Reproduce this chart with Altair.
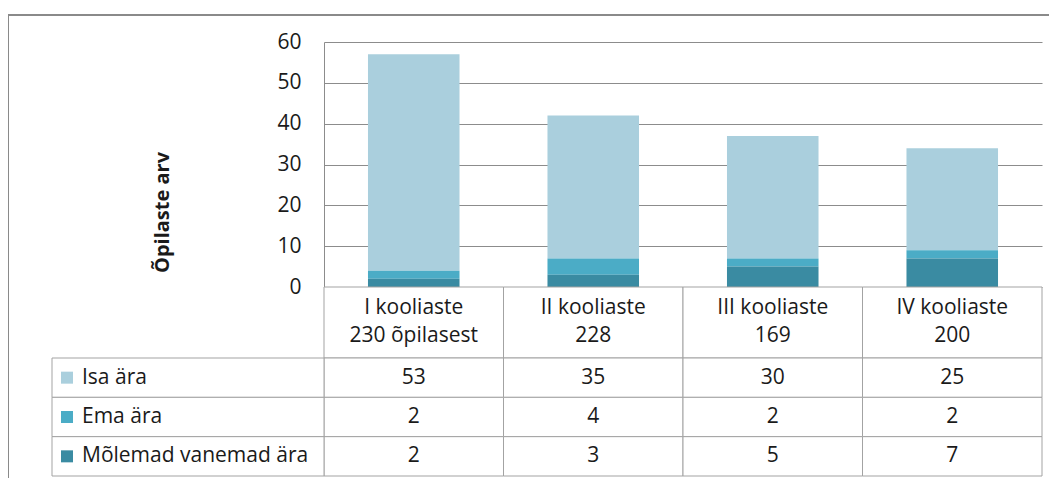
import altair as alt
import pandas as pd

# ---- data ----
categories = ["I kooliaste", "II kooliaste", "III kooliaste", "IV kooliaste"]
category_counts = ["230 õpilasest", "228", "169", "200"]
series = ["Isa ära", "Ema ära", "Mõlemad vanemad ära"]
isa = [53, 35, 30, 25]
ema = [2, 4, 2, 2]
molemad = [2, 3, 5, 7]
y_ticks = [0, 10, 20, 30, 40, 50, 60]
y_title = "Õpilaste arv"

colors = ["#AACFDD", "#4BACC6", "#3A8BA2"]

series_values = {series[0]: isa, series[1]: ema, series[2]: molemad}
rows = []
for s_i, s in enumerate(series):
    for c_i, c in enumerate(categories):
        rows.append({"cat": c, "series": s, "value": series_values[s][c_i],
                     "stack": len(series) - 1 - s_i})
df = pd.DataFrame(rows)
hdr = pd.DataFrame({"cat": categories,
                    "label": [f"{c}\n{n}" for c, n in zip(categories, category_counts)]})
ser_df = pd.DataFrame({"series": series})
one = pd.DataFrame({"k": [0]})

# ---- styling ----
W, H = 718, 245
FONT = "Open Sans"
FS = 21
GRID = "#8C8C8C"
LINE = "#A3A3A3"
BORDER = "#8A8A8A"
TXT = "#1A1A1A"

color_scale = alt.Scale(domain=series, range=colors)
col_scale = alt.Scale(domain=categories, paddingInner=0, paddingOuter=0)
row_scale = alt.Scale(domain=series, range=[316, 434], paddingInner=0, paddingOuter=0)

border_top = alt.Chart(one).mark_rule(color=BORDER, strokeWidth=2).encode(
    x=alt.value(-316), x2=alt.value(730), y=alt.value(-27))
border_left = alt.Chart(one).mark_rule(color=BORDER, strokeWidth=2).encode(
    x=alt.value(-316), y=alt.value(-27), y2=alt.value(440))

bars = alt.Chart(df).mark_bar().encode(
    x=alt.X("cat:N", sort=categories,
            scale=alt.Scale(domain=categories, paddingInner=0.49, paddingOuter=0.245),
            axis=None),
    y=alt.Y("sum(value):Q", stack="zero",
            scale=alt.Scale(domain=[0, 60], nice=False),
            axis=alt.Axis(values=y_ticks, title=y_title, grid=True, gridColor=GRID,
                          domainColor=GRID, ticks=False, labelPadding=23,
                          labelFont=FONT, labelFontSize=FS, labelColor=TXT,
                          titleFont=FONT, titleFontSize=20, titleFontWeight="bold",
                          titleColor=TXT, titleAngle=270, titleX=-162, titleY=170,
                          titleAlign="center", titleBaseline="middle")),
    color=alt.Color("series:N", scale=color_scale, legend=None),
    order=alt.Order("stack:Q", sort="ascending"),
)

hdr_cells = alt.Chart(hdr).mark_rect(fill="white", stroke=LINE, strokeWidth=1).encode(
    x=alt.X("cat:N", scale=col_scale, axis=None),
    y=alt.value(245), y2=alt.value(316))

cells = alt.Chart(df).mark_rect(fill="white", stroke=LINE, strokeWidth=1).encode(
    x=alt.X("cat:N", scale=col_scale, axis=None),
    y=alt.Y("series:N", scale=row_scale, axis=None))

leg_cells = alt.Chart(ser_df).mark_rect(fill="white", stroke=LINE, strokeWidth=1).encode(
    x=alt.value(-272), x2=alt.value(0),
    y=alt.Y("series:N", scale=row_scale, axis=None))

swatches = alt.Chart(ser_df).mark_square(size=144, opacity=1).encode(
    x=alt.value(-257),
    y=alt.Y("series:N", scale=row_scale, axis=None),
    color=alt.Color("series:N", scale=color_scale, legend=None))

labels = alt.Chart(ser_df).mark_text(align="left", baseline="middle", font=FONT,
                                     fontSize=FS, color=TXT).encode(
    x=alt.value(-242),
    y=alt.Y("series:N", scale=row_scale, axis=None),
    text="series:N")

vals = alt.Chart(df).mark_text(align="center", baseline="middle", font=FONT,
                               fontSize=FS, color=TXT).encode(
    x=alt.X("cat:N", scale=col_scale, axis=None),
    y=alt.Y("series:N", scale=row_scale, axis=None),
    text="value:Q")

hdr_txt = alt.Chart(hdr).mark_text(align="center", baseline="middle", lineBreak="\n",
                                   lineHeight=28, font=FONT, fontSize=FS, color=TXT).encode(
    x=alt.X("cat:N", scale=col_scale, axis=None),
    y=alt.value(266),
    text="label:N")

chart = alt.layer(
    border_top, border_left, bars, hdr_cells, cells, leg_cells,
    swatches, labels, vals, hdr_txt
).resolve_scale(
    x="independent", y="independent", color="shared"
).properties(
    width=W, height=H,
    padding={"left": 316, "top": 34, "right": 7, "bottom": 191},
    autosize=alt.AutoSizeParams(type="none"),
).configure_view(strokeWidth=0)

chart.save("out.html", embed_options={"renderer": "svg", "actions": False})
